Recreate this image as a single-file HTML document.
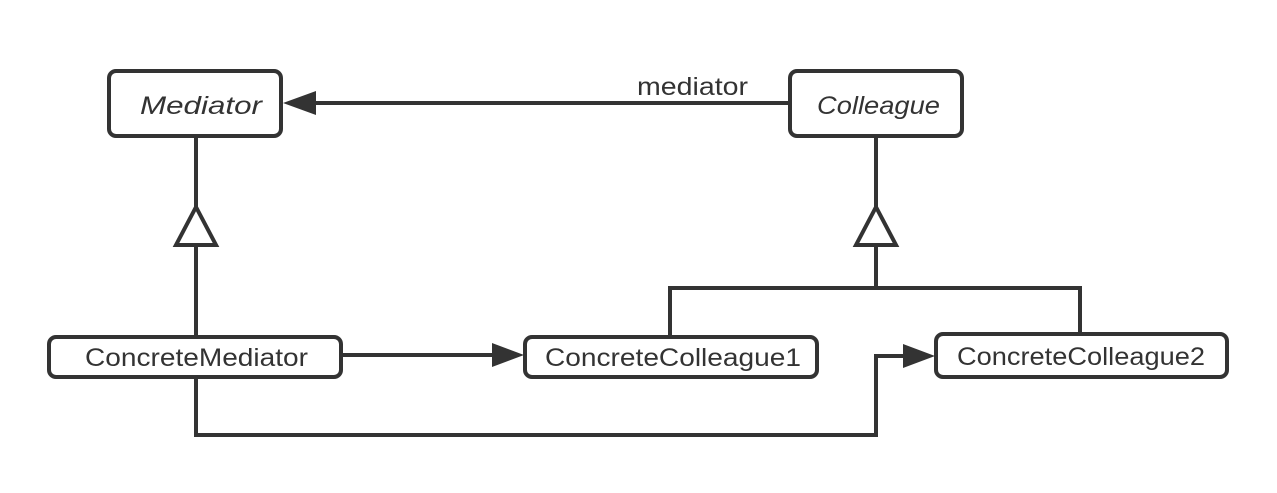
<!DOCTYPE html>
<html><head><style>body{margin:0;background:#fff}</style></head><body>
<svg width="1277" height="488" xmlns="http://www.w3.org/2000/svg" font-family="'Liberation Sans', sans-serif" font-size="25" fill="#333">
<g stroke="#333" stroke-width="4" fill="none">
<rect x="109" y="71" width="172" height="65" rx="7" fill="#fff"/>
<rect x="790" y="71" width="172" height="65" rx="7" fill="#fff"/>
<rect x="49" y="337" width="292" height="40" rx="7" fill="#fff"/>
<rect x="525" y="337" width="292" height="40" rx="7" fill="#fff"/>
<rect x="936" y="334" width="291" height="43" rx="7" fill="#fff"/>
<line x1="790" y1="103" x2="310" y2="103"/>
<polyline points="196,137 196,207"/>
<polyline points="196,245 196,337"/>
<polygon points="196,207 176,245 216,245" fill="#fff"/>
<polyline points="876,137 876,207"/>
<polygon points="876,207 856,245 896,245" fill="#fff"/>
<polyline points="876,245 876,288"/>
<polyline points="670,337 670,288 1080,288 1080,334"/>
<line x1="341" y1="355" x2="500" y2="355"/>
<polyline points="196,377 196,435 876,435 876,356 912,356"/>
</g>
<g fill="#333">
<polygon points="283,103 316,91 316,115"/>
<polygon points="524,355 492,343 492,367"/>
<polygon points="935,356 903,344 903,368"/>
</g>
<text x="637" y="95" textLength="111" lengthAdjust="spacingAndGlyphs">mediator</text>
<text x="140" y="114" font-style="italic" textLength="122" lengthAdjust="spacingAndGlyphs">Mediator</text>
<text x="817" y="114" font-style="italic" textLength="123" lengthAdjust="spacingAndGlyphs">Colleague</text>
<text x="85" y="366" textLength="223" lengthAdjust="spacingAndGlyphs">ConcreteMediator</text>
<text x="545" y="366" textLength="256" lengthAdjust="spacingAndGlyphs">ConcreteColleague1</text>
<text x="957" y="365" textLength="248" lengthAdjust="spacingAndGlyphs">ConcreteColleague2</text>
</svg>
</body></html>
